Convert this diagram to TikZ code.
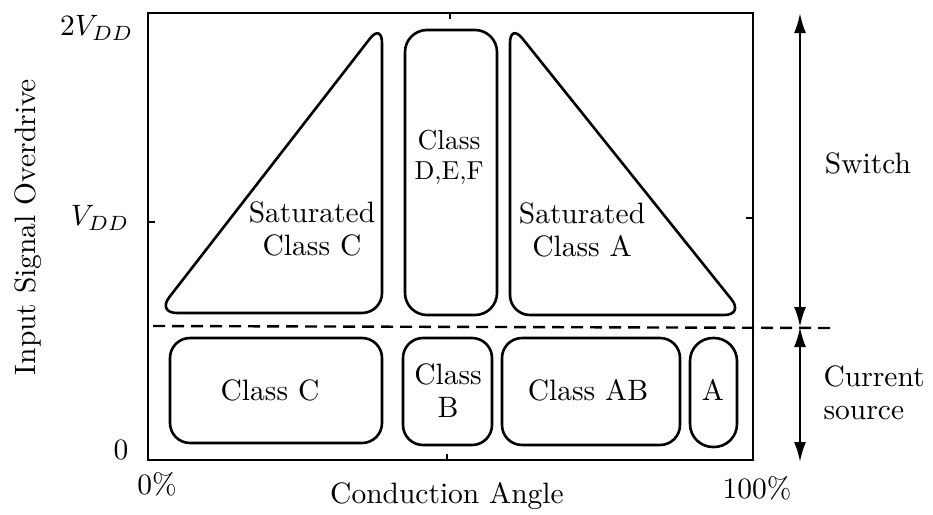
\documentclass[tikz,border=0pt]{standalone}
\usetikzlibrary{arrows.meta}
\begin{document}
\begin{tikzpicture}[x=1pt,y=-1pt,
  region/.style={line width=2.6pt, rounded corners=20pt},
  lbl/.style={font=\fontsize{10}{11.2}\selectfont, align=center, inner sep=0pt, scale=2.95},
  small/.style={font=\fontsize{10}{11.2}\selectfont, align=center, inner sep=0pt, scale=2.6},
  dbl/.style={line width=2.4pt, {Latex[length=20pt,width=12pt]}-{Latex[length=20pt,width=12pt]}},
  tick/.style={line width=1.8pt}]
\useasboundingbox (0,0) rectangle (933,514);
% frame
\draw[line width=2.4pt] (148,13) rectangle (753,460);
\draw[tick] (148,222) -- (155,222);
\draw[tick] (753,218) -- (746,218);
\draw[tick] (450,13) -- (450,19);
\draw[tick] (447,460) -- (447,454);
% saturated regions
\draw[region] (270,313) -- (382,313) -- (382,23) -- (157,313) -- cycle;
\draw[region] (620,315) -- (510,315) -- (510,23) -- (744,315) -- cycle;
\draw[region, rounded corners=22pt] (405,30) rectangle (497,315);
% current source regions
\draw[region] (170,338) rectangle (382,443);
\draw[region] (403,338) rectangle (492,445);
\draw[region] (502,338) rectangle (680,445);
\draw[region, rounded corners=23pt] (690,338) rectangle (737,447);
% dashed divider
\coordinate (dl) at (153,326);
\coordinate (dr) at (835,328);
\draw[line width=2.4pt, dash pattern=on 12pt off 7pt] (dl) -- (dr);
% arrows
\coordinate (atop) at (800,13);
\coordinate (amid) at (800,327);
\coordinate (abot) at (800,462);
\draw[dbl] (atop) -- (amid);
\draw[dbl] (amid) -- (abot);
% region labels
\node[lbl] (satc) at (312,229) {Saturated\\Class C};
\node[lbl, scale=0.93] (defclass) at (449,140) {Class};
\node[small] (def) at (449,173) {D,E,F};
\node[lbl] (sata) at (582,230) {Saturated\\Class A};
\node[lbl] (cc) at (270,390) {Class C};
\node[lbl] (cb) at (448,391) {Class\\B};
\node[lbl] (cab) at (588,390) {Class AB};
\node[lbl] (ca) at (713,390) {A};
% axis labels
\node[lbl, anchor=east] (y2) at (134,28) {$2V_{DD}$};
\node[lbl, anchor=east] (y1) at (130,218) {$V_{DD}$};
\node[lbl] (y0) at (121,450) {$0$};
\node[lbl] (x0) at (157,484) {0\%};
\node[lbl] (x1) at (757,488) {100\%};
\node[lbl] (xl) at (447,496) {Conduction Angle};
\node[lbl, rotate=90] (yl) at (28,227) {Input Signal Overdrive};
\node[lbl] (sw) at (868,163) {Switch};
\node[lbl, align=left, anchor=west] (cs) at (823,393) {Current\\source};
\end{tikzpicture}
\end{document}
